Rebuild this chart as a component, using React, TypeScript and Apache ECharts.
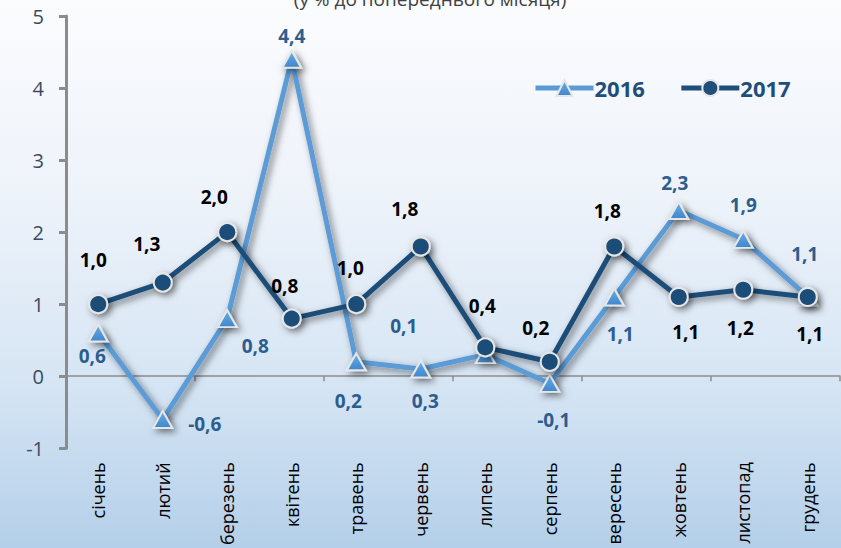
import React, { useEffect, useRef } from "react";
import * as echarts from "echarts";

const months = ["січень", "лютий", "березень", "квітень", "травень", "червень", "липень", "серпень", "вересень", "жовтень", "листопад", "грудень"];
const values2016 = [0.6, -0.6, 0.8, 4.4, 0.2, 0.1, 0.3, -0.1, 1.1, 2.3, 1.9, 1.1];
const values2017 = [1.0, 1.3, 2.0, 0.8, 1.0, 1.8, 0.4, 0.2, 1.8, 1.1, 1.2, 1.1];
const seriesNames = ["2016", "2017"];
const titleText = "(у % до попереднього місяця)";

// label offsets (pixels, relative to each marker centre)
const offsets2016 = [[-6, 23], [42, 5], [28, 27], [0, -23], [-8, 39], [-17, -43], [-60, 46], [4, 37], [6, 37], [-4, -28], [0, -34], [-3, -43]];
const offsets2017 = [[-5, -44], [-16, -39], [-13, -35], [-7, -33], [-6, -36], [-16, -38], [-3, -41], [-14, -34], [-7, -36], [7, 35], [-3, 38], [2, 37]];

const fmt = (v: number) => v.toFixed(1).replace(".", ",");

export default function App() {
  const ref = useRef<HTMLDivElement>(null);
  useEffect(() => {
    if (!ref.current) return;
    const chart = echarts.init(ref.current, null, { renderer: "svg" });
    const font = "'Open Sans', 'Noto Sans', sans-serif";
    const labelBase = {
      show: true,
      position: "inside",
      align: "center",
      verticalAlign: "middle",
      fontFamily: font,
      fontWeight: "bold",
      fontSize: 19,
    };
    const data2016 = values2016.map((v, i) => ({
      value: v,
      label: { ...labelBase, offset: offsets2016[i], color: "#2c5d8f", formatter: fmt(v) },
    }));
    const data2017 = values2017.map((v, i) => ({
      value: v,
      label: { ...labelBase, offset: offsets2017[i], color: "#000000", formatter: fmt(v) },
    }));
    const shadow = { shadowColor: "rgba(0,0,0,0.5)", shadowBlur: 7, shadowOffsetX: 3, shadowOffsetY: 3 };
    chart.setOption({
      animation: false,
      backgroundColor: "transparent",
      graphic: [
        {
          type: "text",
          x: 430,
          y: -1,
          style: {
            text: titleText,
            fill: "#404040",
            font: `19px ${font}`,
            align: "center",
            verticalAlign: "middle",
          },
        },
      ],
      legend: {
        left: 528,
        top: 72,
        itemWidth: 58,
        itemHeight: 20,
        itemGap: 34,
        lineStyle: { width: 5 },
        textStyle: { color: "#1f4e79", fontWeight: "bold", fontSize: 22, fontFamily: font, padding: [0, 0, 0, -4] },
        data: seriesNames,
      },
      grid: { left: 66, right: 1, top: 16, bottom: 97, containLabel: false },
      xAxis: [
        {
          type: "category",
          data: months,
          boundaryGap: true,
          axisLine: { show: true, onZero: true, lineStyle: { color: "#8c8c8c", width: 1.5 } },
          axisTick: { show: true, length: 5, lineStyle: { color: "#8c8c8c", width: 1.5 } },
          axisLabel: { show: false },
          splitLine: { show: false },
          z: 1,
        },
        {
          type: "category",
          data: months,
          position: "bottom",
          boundaryGap: true,
          axisLine: { show: false, onZero: false },
          axisTick: { show: false },
          axisLabel: { show: true, rotate: 90, margin: 14, color: "#000000", fontSize: 18, fontFamily: font, interval: 0 },
          splitLine: { show: false },
        },
      ],
      yAxis: {
        type: "value",
        min: -1,
        max: 5,
        interval: 1,
        axisLine: { show: true, lineStyle: { color: "#8c8c8c", width: 3 } },
        axisTick: { show: true, length: 7, lineStyle: { color: "#8c8c8c", width: 3 } },
        axisLabel: { margin: 22, color: "#3b4a5f", fontSize: 20, fontFamily: font },
        splitLine: { show: false },
      },
      series: [
        {
          name: seriesNames[0],
          type: "line",
          xAxisIndex: 0,
          data: data2016,
          symbol: "triangle",
          symbolSize: [19, 17],
          lineStyle: { color: "#5b9bd5", width: 5, ...shadow },
          itemStyle: {
            color: new echarts.graphic.LinearGradient(0, 0, 0, 1, [
              { offset: 0, color: "#6aaee6" },
              { offset: 1, color: "#3f86cc" },
            ]),
            borderColor: "#e6e6e6",
            borderWidth: 2,
            ...shadow,
          },
          z: 3,
        },
        {
          name: seriesNames[1],
          type: "line",
          xAxisIndex: 0,
          data: data2017,
          symbol: "circle",
          symbolSize: 18,
          lineStyle: { color: "#1f4e79", width: 5, ...shadow },
          itemStyle: { color: "#1f4e79", borderColor: "#e6e6e6", borderWidth: 2, ...shadow },
          z: 4,
        },
      ],
    });
    return () => chart.dispose();
  }, []);
  return (
    <div
      style={{
        position: "fixed",
        left: 0,
        top: 0,
        width: 841,
        height: 548,
        background: "linear-gradient(to bottom, #fbfcfe 0%, #eef3fa 35%, #d6e5f4 70%, #b4cfe9 100%)",
      }}
    >
      <div ref={ref} style={{ width: 841, height: 548 }} />
    </div>
  );
}
